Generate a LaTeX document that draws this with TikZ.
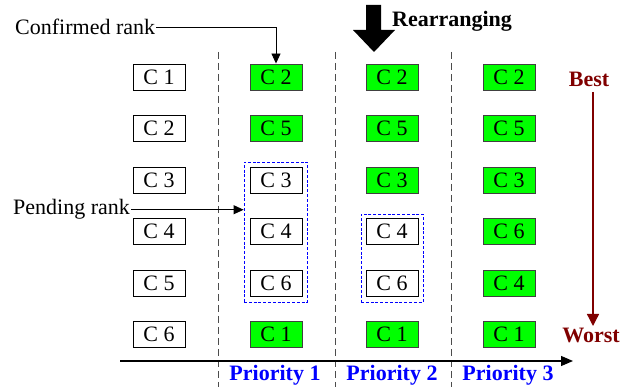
\documentclass[tikz,border=0pt]{standalone}
\usepackage{fontspec}
\setmainfont{Liberation Serif}
\usetikzlibrary{arrows.meta}
\definecolor{okgreen}{HTML}{00FF00}
\definecolor{darkred}{HTML}{800000}
\newcommand{\diagfont}{\fontsize{22}{24}\selectfont}
\tikzset{
  cand/.style={draw=black, line width=0.9pt, minimum width=52pt, minimum height=26pt, inner sep=0pt, fill=white, font=\diagfont},
  fixed/.style={cand, fill=okgreen, draw=black!75},
  label/.style={inner sep=1pt, font=\diagfont},
  prio/.style={anchor=base, inner sep=0pt, text=blue, font=\diagfont\bfseries},
  divider/.style={draw=black!70, line width=0.9pt, dash pattern=on 7pt off 4pt},
  group/.style={draw=blue, line width=0.8pt, dash pattern=on 3pt off 1.8pt, inner sep=0pt},
  pointer/.style={line width=0.9pt, -{Triangle[length=10pt,width=9pt]}}
}
\begin{document}
\begin{tikzpicture}[x=1pt,y=-1pt]
\useasboundingbox (0,0) rectangle (624,387);

% column dividers
\draw[divider] (218,52) -- (218,387);
\draw[divider] (335,52) -- (335,387);
\draw[divider] (451,52) -- (451,387);

% pending groups
\node[group, minimum width=63pt, minimum height=140pt] (g1) at (275.5,232) {};
\node[group, minimum width=62pt, minimum height=88pt] (g2) at (392,258) {};

% initial order
\node[cand] (a1) at (159,77) {C 1};
\node[cand] (a2) at (159,128.5) {C 2};
\node[cand] (a3) at (159,180) {C 3};
\node[cand] (a4) at (159,231.5) {C 4};
\node[cand] (a5) at (159,283) {C 5};
\node[cand] (a6) at (159,334.5) {C 6};

% priority 1
\node[fixed] (b1) at (276,77) {C 2};
\node[fixed] (b2) at (276,128.5) {C 5};
\node[cand] (b3) at (276,180) {C 3};
\node[cand] (b4) at (276,231.5) {C 4};
\node[cand] (b5) at (276,283) {C 6};
\node[fixed] (b6) at (276,334.5) {C 1};

% priority 2
\node[fixed] (c1) at (392,77) {C 2};
\node[fixed] (c2) at (392,128.5) {C 5};
\node[fixed] (c3) at (392,180) {C 3};
\node[cand] (c4) at (392,231.5) {C 4};
\node[cand] (c5) at (392,283) {C 6};
\node[fixed] (c6) at (392,334.5) {C 1};

% priority 3
\node[fixed] (d1) at (509,77) {C 2};
\node[fixed] (d2) at (509,128.5) {C 5};
\node[fixed] (d3) at (509,180) {C 3};
\node[fixed] (d4) at (509,231.5) {C 6};
\node[fixed] (d5) at (509,283) {C 4};
\node[fixed] (d6) at (509,334.5) {C 1};

% horizontal axis
\coordinate (ax0) at (120,361);
\coordinate (ax1) at (573,361);
\draw[line width=1.3pt, -{Triangle[length=12pt,width=10pt]}] (ax0) -- (ax1);

\node[prio] (p1) at (275,381) {Priority 1};
\node[prio] (p2) at (392,381) {Priority 2};
\node[prio] (p3) at (508,381) {Priority 3};

% annotations
\node[label, anchor=base west] (conf) at (14,35) {Confirmed rank};
\draw[pointer] (conf.east) -| (b1.north);

\node[label, anchor=base west] (pend) at (12,215) {Pending rank};
\draw[pointer] (pend.east) -- (pend.east -| g1.west);

% rearranging arrow
\fill (366,5) -- (381,5) -- (381,30) -- (395,30) -- (374,52) -- (353,30) -- (366,30) -- cycle;
\node[label, anchor=base west, inner sep=0pt, font=\diagfont\bfseries] (rearr) at (392,27) {Rearranging};

% ranking direction
\node[label, anchor=base, inner sep=0pt, text=darkred, font=\diagfont\bfseries] (best) at (589,87) {Best};
\node[label, anchor=base, inner sep=0pt, text=darkred, font=\diagfont\bfseries] (worst) at (591,343) {Worst};
\coordinate (r0) at (593,92);
\coordinate (r1) at (593,326);
\draw[darkred, line width=1.3pt, -{Triangle[length=12pt,width=12pt]}] (r0) -- (r1);
\end{tikzpicture}
\end{document}
